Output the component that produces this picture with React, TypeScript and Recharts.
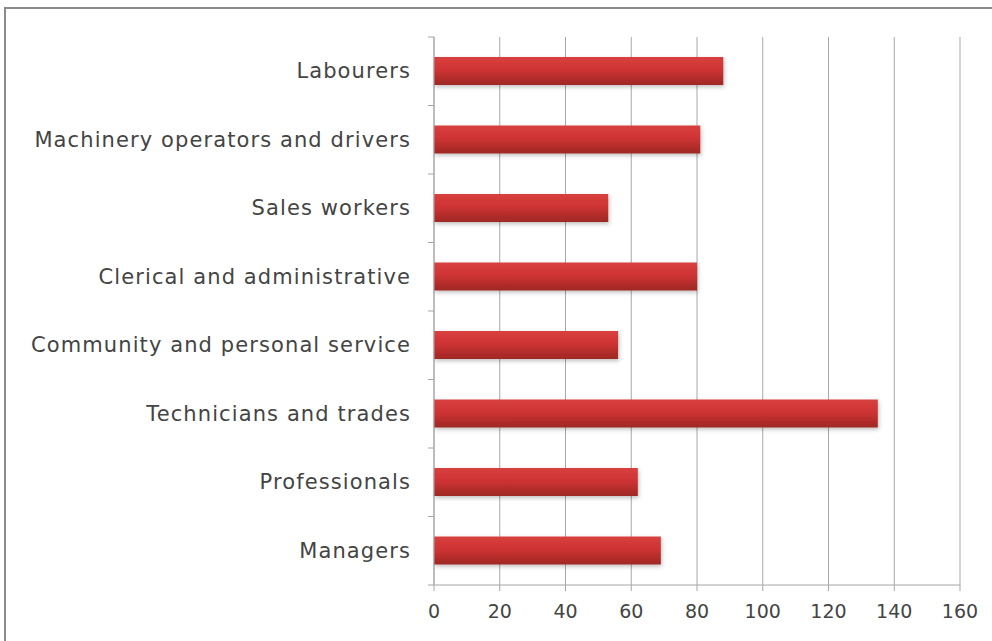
import React from "react";
import { BarChart, Bar, XAxis, YAxis, CartesianGrid } from "recharts";

const categories = [
  "Labourers",
  "Machinery operators and drivers",
  "Sales workers",
  "Clerical and administrative",
  "Community and personal service",
  "Technicians and trades",
  "Professionals",
  "Managers",
];
const values = [88, 81, 53, 80, 56, 135, 62, 69];
const xTicks = [0, 20, 40, 60, 80, 100, 120, 140, 160];

const data = categories.map((name, i) => ({ name, value: values[i] }));

const W = 992;
const H = 641;
const MARGIN = { top: 37, right: 32, bottom: 16, left: 0 };
const X_AXIS_H = 40;
const PLOT_H = H - MARGIN.top - MARGIN.bottom - X_AXIS_H;
const FONT = "'DejaVu Sans', sans-serif";

const CategoryTick = (props: any) => {
  const { x, y, payload, index } = props;
  const band = PLOT_H / categories.length;
  const axisX = x + 23;
  return (
    <g>
      <line x1={axisX - 6} x2={axisX} y1={y - band / 2} y2={y - band / 2} stroke="#a6a6a6" strokeWidth={1} />
      {index === categories.length - 1 ? (
        <line x1={axisX - 6} x2={axisX} y1={y + band / 2} y2={y + band / 2} stroke="#a6a6a6" strokeWidth={1} />
      ) : null}
      <text
        x={x}
        y={y}
        textAnchor="end"
        dominantBaseline="central"
        fill="#444444"
        fontSize={21}
        letterSpacing={1.1}
        fontFamily={FONT}
      >
        {payload.value}
      </text>
    </g>
  );
};

export default function App() {
  return (
    <div style={{ position: "fixed", left: 0, top: 0, width: W, height: H, overflow: "hidden", background: "#fff" }}>
      <div
        style={{
          position: "absolute",
          left: 4,
          top: 7,
          width: 1100,
          height: 800,
          border: "2px solid #8a8a8a",
          boxSizing: "border-box",
        }}
      />
      <div style={{ position: "absolute", left: 0, top: 0 }}>
        <BarChart width={W} height={H} data={data} layout="vertical" margin={MARGIN} barSize={28}>
          <defs>
            <linearGradient id="barGrad" x1="0" y1="0" x2="0" y2="1">
              <stop offset="0%" stopColor="#d8403f" />
              <stop offset="45%" stopColor="#cf3333" />
              <stop offset="100%" stopColor="#9e2824" />
            </linearGradient>
            <filter id="barShadow" x="-5%" y="-30%" width="110%" height="170%">
              <feDropShadow dx="1" dy="2" stdDeviation="2" floodColor="#000" floodOpacity="0.25" />
            </filter>
          </defs>
          <CartesianGrid horizontal={false} vertical={true} stroke="#a8a8a8" />
          <XAxis
            type="number"
            domain={[0, 160]}
            ticks={xTicks}
            height={X_AXIS_H}
            stroke="#a6a6a6"
            tickSize={6}
            tickMargin={14}
            tick={{ fill: "#444444", fontSize: 19, fontFamily: FONT }}
            interval={0}
          />
          <YAxis
            type="category"
            dataKey="name"
            width={434}
            stroke="#a6a6a6"
            tickLine={false}
            tickSize={6}
            tickMargin={17}
            tick={<CategoryTick />}
            interval={0}
          />
          <Bar dataKey="value" fill="url(#barGrad)" filter="url(#barShadow)" isAnimationActive={false} />
        </BarChart>
      </div>
    </div>
  );
}
